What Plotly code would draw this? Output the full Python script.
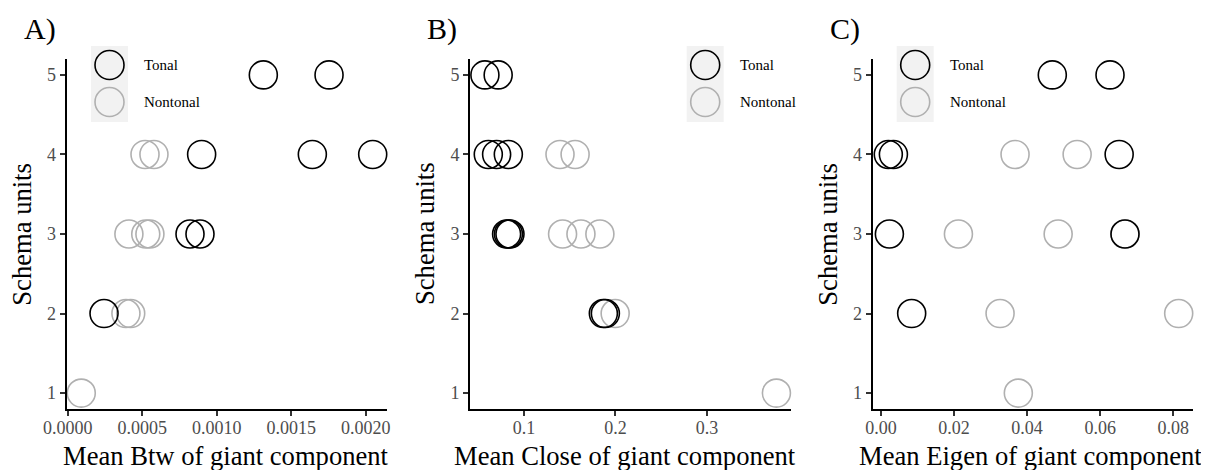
import plotly.graph_objects as go

# schema units (y) and mean centrality of giant component (x), per panel
btw_tonal_x = [0.001313, 0.001754, 0.000899, 0.001642, 0.002047, 0.000821, 0.000888, 0.000244]
btw_tonal_y = [5, 5, 4, 4, 4, 3, 3, 2]
btw_nontonal_x = [0.000519, 0.000579, 0.000411, 0.000524, 0.000552, 0.000391, 0.000423, 0.0000913]
btw_nontonal_y = [4, 4, 3, 3, 3, 2, 2, 1]

close_tonal_x = [0.0573, 0.0718, 0.0610, 0.0701, 0.0829, 0.0810, 0.0830, 0.0847, 0.1868, 0.1890]
close_tonal_y = [5, 5, 4, 4, 4, 3, 3, 3, 2, 2]
close_nontonal_x = [0.1394, 0.1559, 0.1422, 0.1623, 0.1830, 0.1997, 0.3760]
close_nontonal_y = [4, 4, 3, 3, 3, 2, 1]

eigen_tonal_x = [0.0469, 0.0627, 0.0020, 0.0034, 0.0652, 0.0023, 0.0668, 0.0084]
eigen_tonal_y = [5, 5, 4, 4, 4, 3, 3, 2]
eigen_nontonal_x = [0.0367, 0.0537, 0.0212, 0.0485, 0.0668, 0.0326, 0.0815, 0.0376]
eigen_nontonal_y = [4, 4, 3, 3, 3, 2, 2, 1]

panel_labels = ["A)", "B)", "C)"]
x_titles = ["Mean Btw of giant component", "Mean Close of giant component",
            "Mean Eigen of giant component"]
x_tickvals = [[0, 0.0005, 0.001, 0.0015, 0.002], [0.1, 0.2, 0.3], [0, 0.02, 0.04, 0.06, 0.08]]
x_tickformats = [".4f", ".1f", ".2f"]
x_ranges = [[-0.0000065, 0.002145], [0.041, 0.3915], [-0.00227, 0.0855]]

# page body has an 8px margin, so the figure is shrunk and page pixels shifted by it
OFF = 8
W, H = 1209 - OFF, 470 - OFF
FONT = "Liberation Serif, Times New Roman, serif"
TONAL = "black"
NONTONAL = "#b0b0b0"


def px(x):
    return (x - OFF) / W


def py(y):
    return 1 - (y - OFF) / H


# page-pixel layout of each panel
x_doms_px = [(66.7, 387.3), (470, 790.6), (872.7, 1193.3)]
y_dom_px = (59, 409)
x_title_cx = [226, 625, 1030]
legend_px = [91, 686.7, 896.7]   # left edge of legend key box

fig = go.Figure()

panels = [
    (btw_tonal_x, btw_tonal_y, btw_nontonal_x, btw_nontonal_y),
    (close_tonal_x, close_tonal_y, close_nontonal_x, close_nontonal_y),
    (eigen_tonal_x, eigen_tonal_y, eigen_nontonal_x, eigen_nontonal_y),
]

for i, (tx, ty, nx, ny) in enumerate(panels):
    suffix = "" if i == 0 else str(i + 1)
    for xs, ys, col, name in [(nx, ny, NONTONAL, "Nontonal"), (tx, ty, TONAL, "Tonal")]:
        fig.add_trace(go.Scatter(
            x=xs, y=ys, mode="markers", name=name, showlegend=False,
            xaxis="x" + suffix, yaxis="y" + suffix, cliponaxis=False,
            marker=dict(symbol="circle-open", size=28, color=col, line=dict(width=1.6, color=col))
        ))

    axis_common = dict(
        showgrid=False, zeroline=False, showline=True, linecolor="black", linewidth=2,
        ticks="outside", ticklen=5, tickwidth=2, tickcolor="#333333", automargin=False,
        tickfont=dict(family=FONT, size=18, color="#4d4d4d"),
    )
    x0, x1 = x_doms_px[i]
    fig.update_layout(**{
        "xaxis" + suffix: dict(
            axis_common, domain=[px(x0), px(x1)], range=x_ranges[i],
            tickvals=x_tickvals[i], tickformat=x_tickformats[i],
            anchor="y" + suffix, ticklabelstandoff=-4,
        ),
        "yaxis" + suffix: dict(
            axis_common, domain=[py(y_dom_px[1]), py(y_dom_px[0])], range=[0.8, 5.2],
            tickvals=[1, 2, 3, 4, 5], anchor="x" + suffix,
        ),
    })

    # axis titles
    fig.add_annotation(x=px(x_title_cx[i]), y=py(456), xref="paper", yref="paper",
                       text=x_titles[i], showarrow=False, xanchor="center", yanchor="middle",
                       font=dict(family=FONT, size=26.6, color="black"))
    fig.add_annotation(x=px(x0 - 45), y=py(234), xref="paper", yref="paper",
                       text="Schema units", showarrow=False, textangle=-90,
                       xanchor="center", yanchor="middle",
                       font=dict(family=FONT, size=26.6, color="black"))

    # panel tag
    fig.add_annotation(x=px(x0 - 45), y=py(29), xref="paper", yref="paper",
                       text=panel_labels[i], showarrow=False, xanchor="left", yanchor="middle",
                       font=dict(family=FONT, size=30, color="black"))

    # legend key box drawn by hand so the circles keep their plot size
    lx = legend_px[i]
    fig.add_shape(type="rect", xref="paper", yref="paper",
                  x0=px(lx), x1=px(lx + 37), y0=py(122), y1=py(46),
                  fillcolor="#f2f2f2", line=dict(width=0), layer="below")
    for cy, col, name in [(65, TONAL, "Tonal"), (102, NONTONAL, "Nontonal")]:
        fig.add_shape(type="circle", xref="paper", yref="paper",
                      xsizemode="pixel", ysizemode="pixel",
                      xanchor=px(lx + 18.5), yanchor=py(cy),
                      x0=-14.5, x1=14.5, y0=-14.5, y1=14.5,
                      line=dict(color=col, width=1.6))
        fig.add_annotation(x=px(lx + 51), y=py(cy), xref="paper", yref="paper",
                           text=name, showarrow=False, xanchor="left", yanchor="middle",
                           font=dict(family=FONT, size=15, color="black"))

fig.update_layout(
    width=W, height=H,
    margin=dict(l=0, r=0, t=0, b=0),
    plot_bgcolor="white", paper_bgcolor="white",
    showlegend=False,
)

fig.write_html("out.html")
